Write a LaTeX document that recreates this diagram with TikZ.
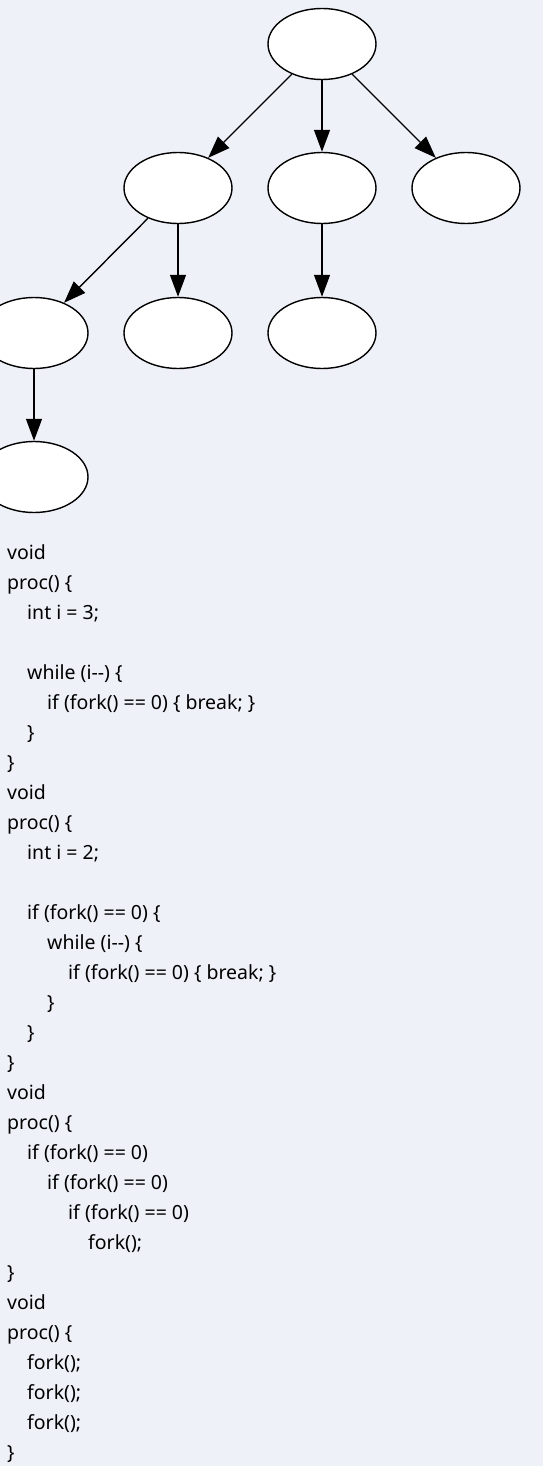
\documentclass[tikz,border=0pt]{standalone}
\usepackage{fontspec}
\setmainfont{Noto Sans}
\usetikzlibrary{shapes.geometric,arrows.meta}
\definecolor{bgcol}{RGB}{238,241,248}
\tikzset{
  proc/.style={ellipse,draw=black,fill=white,line width=1.4pt,minimum width=108pt,minimum height=71pt,inner sep=0pt},
  edge/.style={line width=1.4pt,-{Triangle[length=22pt,width=16pt]}},
  code/.style={anchor=base west,inner sep=0pt,font=\fontsize{19.5}{30}\selectfont,text=black}
}
\begin{document}
\begin{tikzpicture}[x=1pt,y=-1pt]
\useasboundingbox (0,0) rectangle (543,1466);
\fill[bgcol] (0,0) rectangle (543,1466);
% tree
\node[proc] (r) at (322,44) {};
\node[proc] (a) at (178,188) {};
\node[proc] (b) at (322,188) {};
\node[proc] (c) at (466,188) {};
\node[proc] (aa) at (34,333) {};
\node[proc] (ab) at (178,333) {};
\node[proc] (ba) at (322,333) {};
\node[proc] (aaa) at (34,477) {};
\draw[edge] (r) -- (a);
\draw[edge] (r) -- (b);
\draw[edge] (r) -- (c);
\draw[edge] (a) -- (aa);
\draw[edge] (a) -- (ab);
\draw[edge] (b) -- (ba);
\draw[edge] (aa) -- (aaa);
% code
\node[code] (t1) at (7,559) {void};
\node[code] (t2) at (7,589) {proc() \{};
\node[code] (t3) at (27,619) {int i = 3;};
\node[code] (t5) at (27,679) {while (i-{}-) \{};
\node[code] (t6) at (47,709) {if (fork() == 0) \{ break; \}};
\node[code] (t7) at (27,739) {\}};
\node[code] (t8) at (7,769) {\}};
\node[code] (t9) at (7,799) {void};
\node[code] (t10) at (7,829) {proc() \{};
\node[code] (t11) at (27,859) {int i = 2;};
\node[code] (t13) at (27,919) {if (fork() == 0) \{};
\node[code] (t14) at (47,949) {while (i-{}-) \{};
\node[code] (t15) at (68,979) {if (fork() == 0) \{ break; \}};
\node[code] (t16) at (47,1009) {\}};
\node[code] (t17) at (27,1039) {\}};
\node[code] (t18) at (7,1069) {\}};
\node[code] (t19) at (7,1099) {void};
\node[code] (t20) at (7,1129) {proc() \{};
\node[code] (t21) at (27,1159) {if (fork() == 0)};
\node[code] (t22) at (47,1189) {if (fork() == 0)};
\node[code] (t23) at (68,1219) {if (fork() == 0)};
\node[code] (t24) at (88,1249) {fork();};
\node[code] (t25) at (7,1279) {\}};
\node[code] (t26) at (7,1309) {void};
\node[code] (t27) at (7,1339) {proc() \{};
\node[code] (t28) at (27,1369) {fork();};
\node[code] (t29) at (27,1399) {fork();};
\node[code] (t30) at (27,1429) {fork();};
\node[code] (t31) at (7,1459) {\}};
\end{tikzpicture}
\end{document}
